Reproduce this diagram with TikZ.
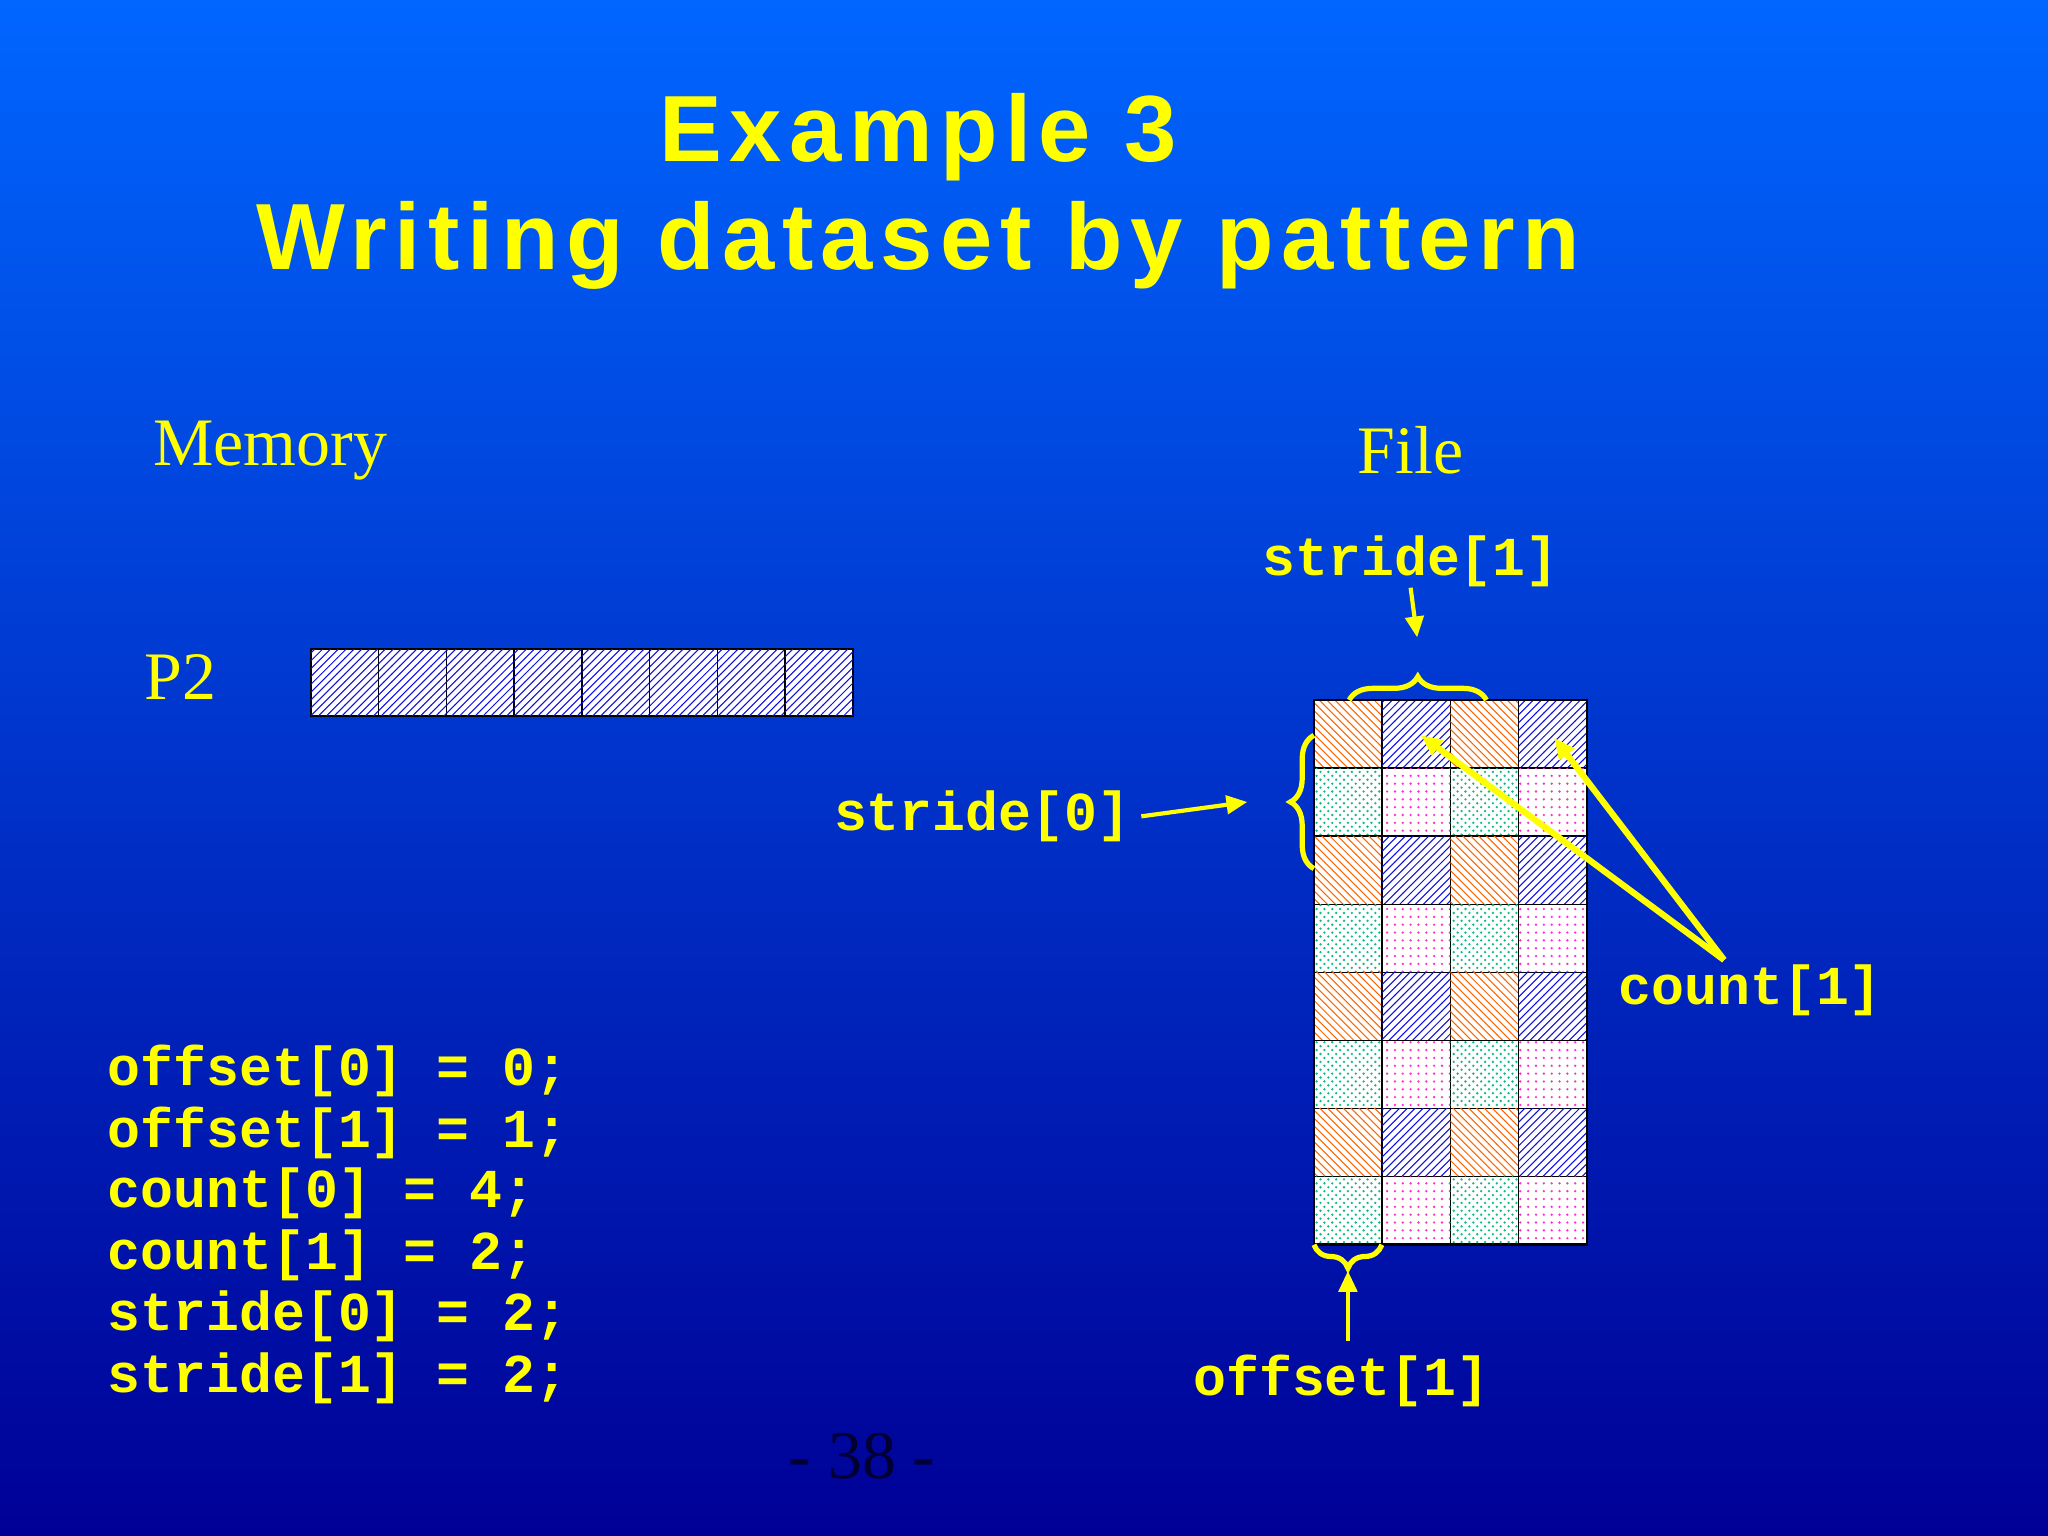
\documentclass[tikz,border=0pt]{standalone}
\usepackage{fontspec}
\setmainfont{Liberation Serif}
\setsansfont{Liberation Sans}
\setmonofont{Liberation Mono}
\usetikzlibrary{patterns,decorations.pathreplacing,arrows.meta}
\definecolor{yel}{HTML}{FFFF00}
\definecolor{org}{HTML}{FF6600}
\definecolor{grn}{HTML}{11BB88}
\definecolor{pnk}{HTML}{FF33CC}
\definecolor{blu}{HTML}{1010E0}
\begin{document}
\begin{tikzpicture}[x=0.5pt,y=-0.5pt,
  cell/.style={draw=black,line width=0.6pt},
  bluecell/.style={cell,fill=white,postaction={pattern=north east lines,pattern color=blu}},
  orgcell/.style={cell,fill=white,postaction={pattern=north west lines,pattern color=org}},
  grncell/.style={cell,fill=white,postaction={pattern=crosshatch dots,pattern color=grn}},
  pnkcell/.style={cell,fill=white,postaction={pattern=dots,pattern color=pnk}},
  code/.style={font=\ttfamily\bfseries\fontsize{21}{26}\selectfont,text=yel,inner sep=0pt},
  serif/.style={font=\rmfamily\fontsize{26}{30}\selectfont,text=yel},
  ybrace/.style={draw=yel,line width=2pt,decorate,decoration={brace,amplitude=9pt}},
  yarrow/.style={draw=yel,line width=1.6pt,-{Triangle[length=8pt,width=7pt]}}]
\useasboundingbox (0,0) rectangle (1568,1176);
\shade[top color=blue!60!cyan!70!blue, bottom color=blue!65!black] (0,0) rectangle (1568,1176);
\shade[top color={rgb,255:red,0;green,102;blue,255}, bottom color={rgb,255:red,0;green,0;blue,150}] (0,0) rectangle (1568,1176);
% title
\node[font=\sffamily\bfseries\fontsize{36}{40}\selectfont\addfontfeature{LetterSpace=8},text=yel] (t1) at (703,105) {Example 3};
\node[font=\sffamily\bfseries\fontsize{36}{40}\selectfont\addfontfeature{LetterSpace=8},text=yel] (t2) at (703,188) {Writing dataset by pattern};
\node[serif] (mem) at (207,345) {Memory};
\node[serif] (file) at (1080,345) {File};
\node[serif] (p2) at (138,518) {P2};
% memory bar
\foreach \i in {0,...,7}
  \path[bluecell] ({238+\i*51.875},497) rectangle ({238+(\i+1)*51.875},548);
% file grid
\foreach \r in {0,...,7}{
  \foreach \c in {0,...,3}{
    \pgfmathtruncatemacro{\ev}{mod(\r,2)}
    \pgfmathtruncatemacro{\cv}{mod(\c,2)}
    \ifnum\ev=0
      \ifnum\cv=0 \def\st{orgcell}\else\def\st{bluecell}\fi
    \else
      \ifnum\cv=0 \def\st{grncell}\else\def\st{pnkcell}\fi
    \fi
    \path[\st] ({1006+\c*52.25},{536+\r*52.125}) rectangle ({1006+(\c+1)*52.25},{536+(\r+1)*52.125});
  }
}
\draw[line width=1pt] (1006,536) rectangle (1215,953);
% coordinates
\coordinate (tb1) at (1033,536); \coordinate (tb2) at (1138,536);
\coordinate (lb1) at (1006,665); \coordinate (lb2) at (1006,563);
\coordinate (bb1) at (1058,953); \coordinate (bb2) at (1006,953);
\draw[ybrace] (tb1) -- (tb2) coordinate[midway,yshift=0pt] (tbm);
\draw[ybrace] (lb1) -- (lb2);
\draw[ybrace] (bb1) -- (bb2);
\coordinate (ttip) at (1085,488);
\coordinate (ltip) at (955,614);
\coordinate (btip) at (1032,973);
% labels
\node[code] (s1) at (1080,430) {stride[1]};
\node[code] (s0) at (752,625) {stride[0]};
\node[code] (c1) at (1340,758) {count[1]};
\node[code] (o1) at (1027,1057) {offset[1]};
\draw[yarrow] (s1.south) -- (ttip);
\draw[yarrow] (s0.east)++(8,0) coordinate (s0e) (s0e) -- (ltip);
\draw[yarrow] (o1.north)++(5,-10) coordinate (o1n) (o1n) -- (btip);
\coordinate (cc) at (1320,735);
\coordinate (a1) at (1088,563);
\coordinate (a2) at (1190,565);
\draw[yarrow,line width=2.4pt] (cc) -- (a1);
\draw[yarrow,line width=2.4pt] (cc) -- (a2);
% code
\node[code,anchor=west] (l1) at (82,820) {offset[0] = 0;};
\node[code,anchor=west] (l2) at (82,867) {offset[1] = 1;};
\node[code,anchor=west] (l3) at (82,914) {count[0] = 4;};
\node[code,anchor=west] (l4) at (82,961) {count[1] = 2;};
\node[code,anchor=west] (l5) at (82,1008) {stride[0] = 2;};
\node[code,anchor=west] (l6) at (82,1055) {stride[1] = 2;};
\node[font=\rmfamily\fontsize{26}{30}\selectfont,text=black!80!blue] (pg) at (660,1115) {- 38 -};
\end{tikzpicture}
\end{document}
